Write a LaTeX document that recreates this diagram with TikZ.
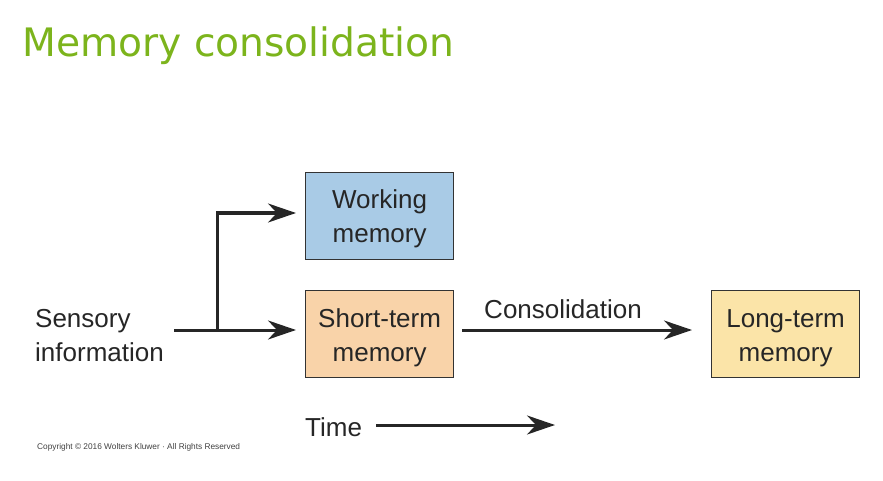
\documentclass[tikz,border=0pt]{standalone}
\usepackage{fontspec}
\setmainfont{Liberation Sans}
\newfontfamily\titlefont{DejaVu Sans}
\usetikzlibrary{arrows.meta}
\definecolor{titlegreen}{HTML}{7CB41C}
\definecolor{wmblue}{HTML}{A9CBE6}
\definecolor{stmorange}{HTML}{F9D3A9}
\definecolor{ltmyellow}{HTML}{FBE4A8}
\definecolor{boxline}{HTML}{333333}
\begin{document}
\begin{tikzpicture}[x=1pt,y=-1pt,
  memorybox/.style={draw=boxline,line width=1.2pt,minimum width=148pt,minimum height=87pt,inner sep=0pt},
  plaintext/.style={font=\fontsize{26}{34}\selectfont,text=black!85,inner sep=0pt},
  boxtext/.style={plaintext,align=center},
  flow/.style={line width=3pt,draw=black!85,-{Stealth[length=28pt,width=19pt,inset=9pt]}}]
\useasboundingbox (0,0) rectangle (883,481);
\node[anchor=base west,inner sep=0pt,text=titlegreen,font=\titlefont\fontsize{39.2}{44}\selectfont] (title) at (22,57) {Memory consolidation};
\node[memorybox,fill=wmblue,anchor=north west] (wm) at (305,172) {};
\node[memorybox,fill=stmorange,anchor=north west] (stm) at (305,290) {};
\node[memorybox,fill=ltmyellow,anchor=north west] (ltm) at (711,290) {};
\node[boxtext,yshift=-2.5pt] (wmtext) at (wm.center) {Working\\memory};
\node[boxtext,yshift=-4pt] (stmtext) at (stm.center) {Short-term\\memory};
\node[boxtext,yshift=-4pt] (ltmtext) at (ltm.center) {Long-term\\memory};
\node[plaintext,anchor=west,align=left] (sens) at (35,335.5) {Sensory\\information};
\coordinate (start) at (174,330);
\coordinate (branch) at (217,330);
\coordinate (stmin) at (296,330);
\coordinate (wmin) at (296,213);
\coordinate (conout) at (462,330);
\coordinate (ltmin) at (692,330);
\draw[line width=3pt,draw=black!85] (start) -- (branch);
\draw[flow] (branch) -- (stmin);
\draw[flow] (branch) |- (wmin);
\draw[flow] (conout) -- (ltmin);
\node[plaintext,anchor=base] (consol) at (563,318) {Consolidation};
\node[plaintext,anchor=base west] (time) at (305,436) {Time};
\coordinate (timestart) at (376,425);
\coordinate (timeend) at (555,425);
\draw[flow] (timestart) -- (timeend);
\node[anchor=west,inner sep=0pt,font=\fontsize{8.3}{10}\selectfont,text=black!75] (copy) at (37,447) {Copyright © 2016 Wolters Kluwer · All Rights Reserved};
\end{tikzpicture}
\end{document}
